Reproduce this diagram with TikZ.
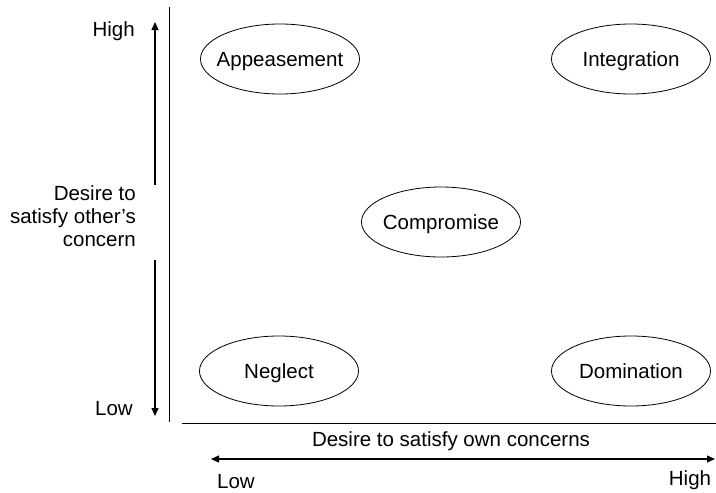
\documentclass[tikz,border=0pt]{standalone}
\usepackage{fontspec}
\setmainfont{Liberation Sans}
\usetikzlibrary{shapes.geometric,arrows.meta}
\begin{document}
\begin{tikzpicture}[x=1pt,y=-1pt,
 lbl/.style={font=\fontsize{20.5}{23}\selectfont, inner sep=0pt},
 oval/.style={font=\fontsize{20.5}{23}\selectfont, inner sep=0pt, text height=14.6pt, text depth=0pt},
 ovalline/.style={line width=0.8pt},
 axis/.style={line width=1pt},
 arr/.style={line width=1.2pt, -{Triangle[length=8pt,width=7pt]}},
 darr/.style={line width=1.2pt, {Triangle[length=8pt,width=7pt]}-{Triangle[length=8pt,width=7pt]}},
]
\useasboundingbox (0,0) rectangle (716,493);
% ellipses
\node[oval] (app) at (280,59) {Appeasement};
\node[oval] (int) at (631,59) {Integration};
\node[oval] (com) at (441,222) {Compromise};
\node[oval] (neg) at (279,371) {Neglect};
\node[oval] (dom) at (631,371) {Domination};
\foreach \n in {app,int,com,neg,dom}
  \draw[ovalline] (\n.center) ellipse [x radius=79.5pt, y radius=35pt];
% axes
\coordinate (va1) at (169,7);
\coordinate (va2) at (169,422);
\coordinate (ha1) at (182,423);
\coordinate (ha2) at (716,423);
\draw[axis] (va1) -- (va2);
\draw[axis] (ha1) -- (ha2);
% vertical arrow
\coordinate (vt) at (155,22);
\coordinate (vm1) at (155,185);
\coordinate (vm2) at (155,260);
\coordinate (vb) at (155,416);
\draw[arr] (vm1) -- (vt);
\draw[arr] (vm2) -- (vb);
\node[lbl, anchor=east] (high1) at (135,31) {High};
\node[lbl, anchor=east] (low1) at (133,409) {Low};
\node[lbl, align=right, anchor=east] (ylab) at (136,216) {Desire to\\satisfy other’s\\concern};
% horizontal arrow
\node[lbl] (xlab) at (451,441) {Desire to satisfy own concerns};
\coordinate (hl) at (211,459);
\coordinate (hr) at (715,459);
\draw[darr] (hl) -- (hr);
\node[lbl] (low2) at (236,482) {Low};
\node[lbl] (high2) at (690,480) {High};
\end{tikzpicture}
\end{document}
